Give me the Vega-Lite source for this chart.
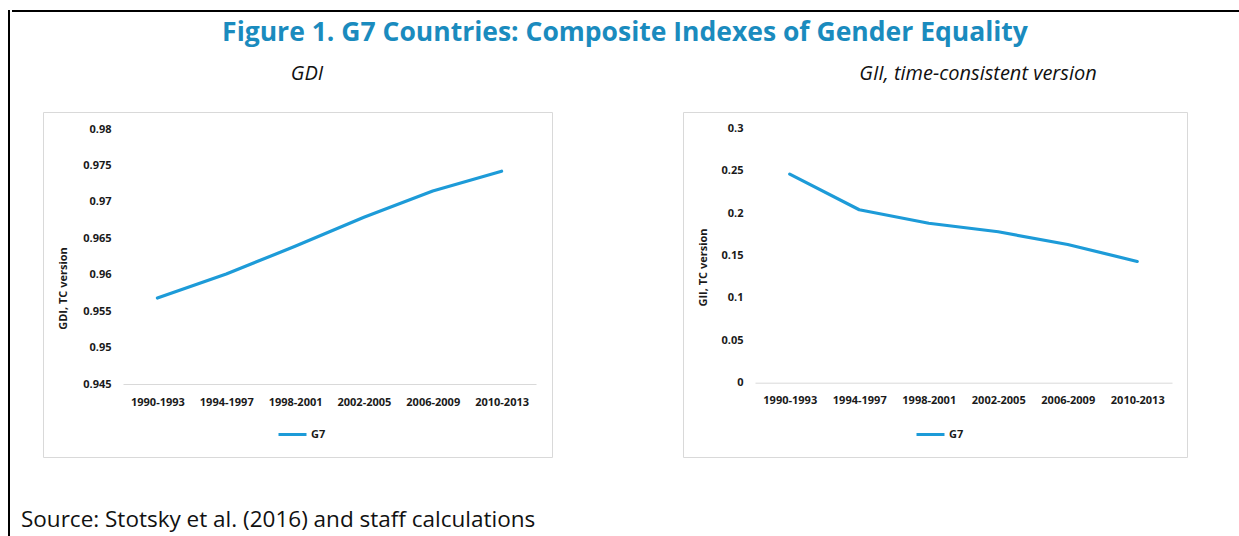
{
  "$schema": "https://vega.github.io/schema/vega-lite/v6.json",
  "background": "white",
  "padding": {"left": 6, "top": 8, "right": 0, "bottom": 0},
  "config": {"view": {"stroke": null}, "font": "Open Sans"},
  "datasets": {
    "blank": [{}],
    "gdi": [
      {"period": "1990-1993", "value": 0.9568, "series": "G7"},
      {"period": "1994-1997", "value": 0.9601, "series": "G7"},
      {"period": "1998-2001", "value": 0.9639, "series": "G7"},
      {"period": "2002-2005", "value": 0.9679, "series": "G7"},
      {"period": "2006-2009", "value": 0.9715, "series": "G7"},
      {"period": "2010-2013", "value": 0.9742, "series": "G7"}
    ],
    "gii": [
      {"period": "1990-1993", "value": 0.246, "series": "G7"},
      {"period": "1994-1997", "value": 0.204, "series": "G7"},
      {"period": "1998-2001", "value": 0.188, "series": "G7"},
      {"period": "2002-2005", "value": 0.178, "series": "G7"},
      {"period": "2006-2009", "value": 0.163, "series": "G7"},
      {"period": "2010-2013", "value": 0.143, "series": "G7"}
    ]
  },
  "spacing": 0,
  "align": "none",
  "hconcat": [
    {
      "data": {"name": "blank"},
      "width": 2,
      "height": 528,
      "view": {"fill": "black", "stroke": null},
      "mark": {"type": "point", "opacity": 0}
    },
    {
      "spacing": 16,
      "align": "none",
      "vconcat": [
        {
          "data": {"name": "blank"},
          "width": 1230,
          "height": 2,
          "view": {"fill": "black", "stroke": null},
          "mark": {"type": "point", "opacity": 0},
          "title": {
            "text": "Figure 1. G7 Countries: Composite Indexes of Gender Equality",
            "orient": "bottom",
            "anchor": "middle",
            "dx": -2,
            "offset": 27.5,
            "baseline": "alphabetic",
            "font": "Open Sans",
            "fontSize": 26.5,
            "fontWeight": "bold",
            "color": "#1A8BBE"
          }
        },
        {
          "spacing": 0,
          "align": "none",
          "title": {
            "text": "Source: Stotsky et al. (2016) and staff calculations",
            "orient": "bottom",
            "anchor": "start",
            "dx": 9,
            "offset": 69,
            "baseline": "alphabetic",
            "font": "Open Sans",
            "fontSize": 22.5,
            "fontWeight": "normal",
            "color": "#111111"
          },
          "hconcat": [
            {
              "data": {"name": "blank"},
              "width": 30,
              "height": 345,
              "view": {"stroke": null},
              "mark": {"type": "point", "opacity": 0}
            },
            {
              "spacing": 129,
              "align": "none",
              "resolve": {"scale": {"color": "independent", "x": "independent", "y": "independent"}, "legend": {"color": "independent"}},
              "hconcat": [
                {
                  "width": 509,
                  "height": 345,
                  "view": {"stroke": "#d9d9d9", "strokeWidth": 1},
                  "title": {
                    "text": "GDI",
                    "anchor": "middle",
                    "dx": 9.5,
                    "offset": 12,
                    "baseline": "alphabetic",
                    "font": "Open Sans",
                    "fontSize": 20,
                    "fontStyle": "italic",
                    "fontWeight": "normal",
                    "color": "#111111"
                  },
                  "data": {"name": "gdi"},
                  "mark": {"type": "line", "strokeWidth": 3.2, "strokeJoin": "round", "strokeCap": "round"},
                  "encoding": {
                    "x": {
                      "field": "period", "type": "ordinal", "sort": null,
                      "scale": {"type": "point", "range": [80, 493], "padding": 0.5},
                      "axis": {
                        "orient": "bottom", "offset": -73, "title": null,
                        "domainColor": "#d9d9d9", "domainWidth": 1,
                        "ticks": false, "tickSize": 0, "grid": false,
                        "labelPadding": 12, "labelAngle": 0,
                        "labelFont": "Open Sans", "labelFontWeight": "bold", "labelFontSize": 11, "labelColor": "#1a1a1a"
                      }
                    },
                    "y": {
                      "field": "value", "type": "quantitative",
                      "scale": {"domain": [0.945, 0.98], "range": [272, 17], "nice": false, "zero": false},
                      "axis": {
                        "orient": "left", "offset": -70, "domain": false, "ticks": false, "tickSize": 0, "grid": false,
                        "labelPadding": 2, "labelOverlap": false,
                        "values": [0.945, 0.95, 0.955, 0.96, 0.965, 0.97, 0.975, 0.98],
                        "format": ".3~f",
                        "labelFont": "Open Sans", "labelFontWeight": "bold", "labelFontSize": 11, "labelColor": "#1a1a1a",
                        "title": "GDI, TC version",
                        "titleFont": "Open Sans", "titleFontSize": 11, "titleFontWeight": "bold", "titleColor": "#1a1a1a",
                        "titleX": -50, "titleY": 176, "titleAngle": -90, "titleAlign": "center", "titleBaseline": "middle"
                      }
                    },
                    "color": {
                      "field": "series", "type": "nominal",
                      "scale": {"domain": ["G7"], "range": ["#1D9BD8"]},
                      "legend": {
                        "orient": "none", "legendX": 234, "legendY": 307, "title": null,
                        "symbolType": "stroke", "symbolSize": 784, "symbolStrokeWidth": 3,
                        "labelFont": "Open Sans", "labelFontSize": 11, "labelFontWeight": "bold", "labelColor": "#1a1a1a",
                        "labelOffset": 3, "padding": 0
                      }
                    }
                  }
                },
                {
                  "width": 504,
                  "height": 345,
                  "view": {"stroke": "#d9d9d9", "strokeWidth": 1},
                  "title": {
                    "text": "GII, time-consistent version",
                    "anchor": "middle",
                    "dx": 43,
                    "offset": 12,
                    "baseline": "alphabetic",
                    "font": "Open Sans",
                    "fontSize": 20,
                    "fontStyle": "italic",
                    "fontWeight": "normal",
                    "color": "#111111"
                  },
                  "data": {"name": "gii"},
                  "mark": {"type": "line", "strokeWidth": 3.2, "strokeJoin": "round", "strokeCap": "round"},
                  "encoding": {
                    "x": {
                      "field": "period", "type": "ordinal", "sort": null,
                      "scale": {"type": "point", "range": [72, 489], "padding": 0.5},
                      "axis": {
                        "orient": "bottom", "offset": -74.3, "title": null,
                        "domainColor": "#d9d9d9", "domainWidth": 1,
                        "ticks": false, "tickSize": 0, "grid": false,
                        "labelPadding": 12, "labelAngle": 0,
                        "labelFont": "Open Sans", "labelFontWeight": "bold", "labelFontSize": 11, "labelColor": "#1a1a1a"
                      }
                    },
                    "y": {
                      "field": "value", "type": "quantitative",
                      "scale": {"domain": [0, 0.3], "range": [270.7, 16.3], "nice": false, "zero": false},
                      "axis": {
                        "orient": "left", "offset": -62, "domain": false, "ticks": false, "tickSize": 0, "grid": false,
                        "labelPadding": 2, "labelOverlap": false,
                        "values": [0, 0.05, 0.1, 0.15, 0.2, 0.25, 0.3],
                        "format": ".2~f",
                        "labelFont": "Open Sans", "labelFontWeight": "bold", "labelFontSize": 11, "labelColor": "#1a1a1a",
                        "title": "GII, TC version",
                        "titleFont": "Open Sans", "titleFontSize": 11, "titleFontWeight": "bold", "titleColor": "#1a1a1a",
                        "titleX": -42, "titleY": 155, "titleAngle": -90, "titleAlign": "center", "titleBaseline": "middle"
                      }
                    },
                    "color": {
                      "field": "series", "type": "nominal",
                      "scale": {"domain": ["G7"], "range": ["#1D9BD8"]},
                      "legend": {
                        "orient": "none", "legendX": 232, "legendY": 307, "title": null,
                        "symbolType": "stroke", "symbolSize": 784, "symbolStrokeWidth": 3,
                        "labelFont": "Open Sans", "labelFontSize": 11, "labelFontWeight": "bold", "labelColor": "#1a1a1a",
                        "labelOffset": 3, "padding": 0
                      }
                    }
                  }
                }
              ]
            }
          ]
        }
      ]
    }
  ]
}
